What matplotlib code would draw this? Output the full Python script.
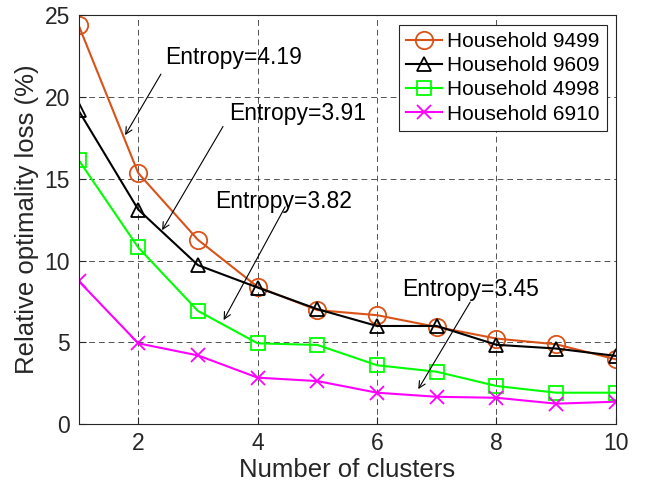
import matplotlib
matplotlib.use("Agg")
import matplotlib.pyplot as plt

# values
clusters = [1, 2, 3, 4, 5, 6, 7, 8, 9, 10]
loss_9499 = [24.4, 15.35, 11.27, 8.39, 6.97, 6.66, 5.94, 5.23, 4.88, 3.96]
loss_9609 = [19.18, 13.12, 9.72, 8.35, 7.03, 6.0, 6.0, 4.85, 4.62, 4.17]
loss_4998 = [16.16, 10.8, 6.92, 4.94, 4.84, 3.6, 3.2, 2.33, 1.92, 1.92]
loss_6910 = [8.76, 4.94, 4.2, 2.84, 2.63, 1.92, 1.67, 1.61, 1.25, 1.37]

# annotation text, position, arrow tail and tip (data coords)
notes = ["Entropy=4.19", "Entropy=3.91", "Entropy=3.82", "Entropy=3.45"]
note_pos = [(2.45, 22.4), (3.52, 19.0), (3.29, 13.6), (6.42, 8.25)]
arrow_tail = [(2.38, 21.4), (3.42, 18.2), (4.46, 13.28), (7.56, 7.46)]
arrow_tip = [(1.78, 17.67), (2.40, 11.86), (3.43, 6.36), (6.69, 2.14)]

plt.rcParams['font.family'] = ['Liberation Sans', 'DejaVu Sans']

fig = plt.figure(figsize=(6.49, 4.92), dpi=100)
ax = fig.add_axes([0.121, 0.138, 0.828, 0.831])

ax.plot(clusters, loss_9499, color='#D95319', marker='o', markersize=12.5,
        markerfacecolor='none', markeredgewidth=1.3, lw=1.5, label='Household 9499')
ax.plot(clusters, loss_9609, color='black', marker='^', markersize=10,
        markerfacecolor='none', markeredgewidth=1.3, lw=1.5, label='Household 9609')
ax.plot(clusters, loss_4998, color='#00FF00', marker='s', markersize=10,
        markerfacecolor='none', markeredgewidth=1.3, lw=1.5, label='Household 4998')
ax.plot(clusters, loss_6910, color='#FF00FF', marker='x', markersize=10,
        markeredgewidth=1.3, lw=1.5, label='Household 6910')

for txt, pos, tail, tip in zip(notes, note_pos, arrow_tail, arrow_tip):
    ax.text(pos[0], pos[1], txt, fontsize=16.5, ha='left', va='center')
    ax.annotate('', xy=tip, xytext=tail,
                arrowprops=dict(arrowstyle='->', lw=0.8, color='black',
                                shrinkA=0, shrinkB=0, mutation_scale=12))

ax.set_xlim(1, 10)
ax.set_ylim(0, 25)
ax.set_xticks([2, 4, 6, 8, 10])
ax.set_yticks([0, 5, 10, 15, 20, 25])
ax.tick_params(direction='in', labelsize=16.5, colors='#262626', length=5, pad=6)
ax.grid(True, linestyle=(0, (6, 4)), color='#262626', lw=0.7, alpha=0.8)
for s in ax.spines.values():
    s.set_color('#262626')
    s.set_linewidth(0.8)

ax.set_xlabel('Number of clusters', fontsize=18.5, color='#262626', labelpad=2)
ax.set_ylabel('Relative optimality loss (%)', fontsize=18.5, color='#262626', labelpad=4)

leg = ax.legend(loc='upper right', fontsize=15, fancybox=False, framealpha=1,
                edgecolor='#262626', borderpad=0.35, labelspacing=0.25,
                handlelength=1.7, handletextpad=0.25, borderaxespad=0.45)
leg.get_frame().set_linewidth(0.8)

fig.savefig('out.png', dpi=100)
